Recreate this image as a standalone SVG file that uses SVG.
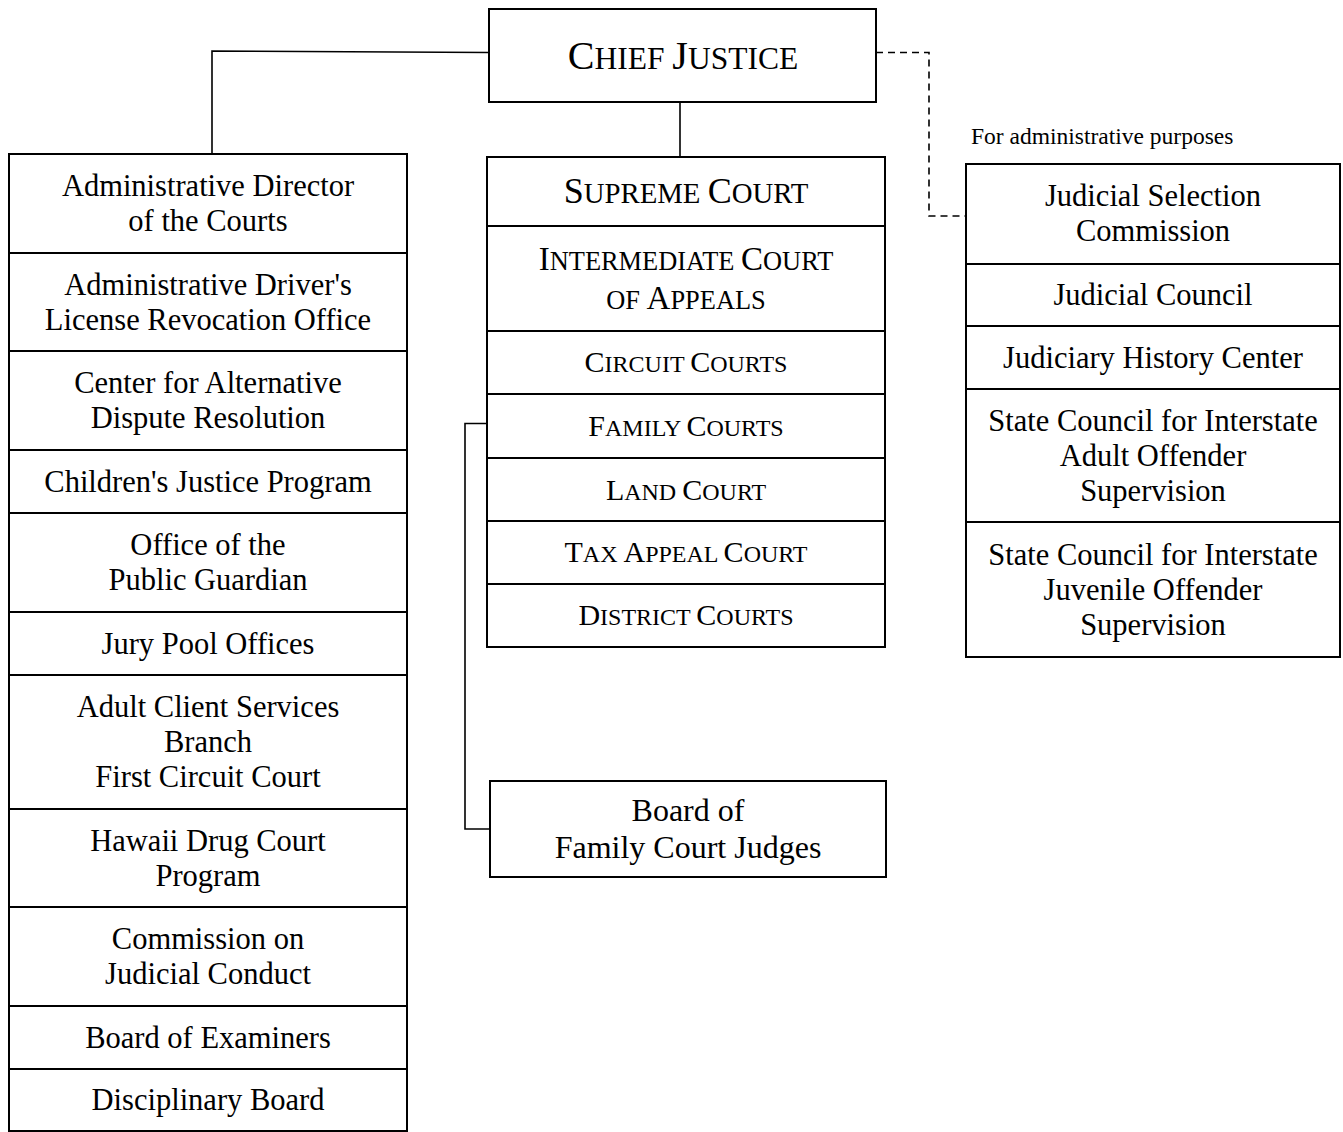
<svg xmlns="http://www.w3.org/2000/svg" width="1343" height="1132" viewBox="0 0 1343 1132">
<style>
  .box { fill: #fff; stroke: #000; stroke-width: 2; }
  .conn { fill: none; stroke: #000; stroke-width: 1.6; }
  .dash { fill: none; stroke: #000; stroke-width: 1.6; stroke-dasharray: 7 5; }
  text { font-family: "Liberation Serif", "Times New Roman", serif; fill: #000; text-anchor: middle; }
  .t { font-size: 30.5px; }
  .note { font-size: 23.5px; text-anchor: start; }
  .sc24 { font-size: 24px; }
  .sc24 .L { font-size: 30px; }
</style>
<rect width="1343" height="1132" fill="#fff"/>

<g id="connectors">
  <polyline class="conn" points="489,52.5 212,51 212,154"/>
  <line class="conn" x1="680" y1="102" x2="680" y2="157"/>
  <polyline class="dash" points="876,52.5 929,52.5 929,216 966,216"/>
  <polyline class="conn" points="487,423.5 465,423.5 465,829 490,829"/>
</g>

<g id="chief-justice">
  <rect class="box" x="489" y="9" width="387" height="93"/>
  <text x="683" y="69" style="font-size:31.5px"><tspan style="font-size:40px">C</tspan>HIEF <tspan style="font-size:40px">J</tspan>USTICE</text>
</g>

<g id="left-column">
  <g id="admin-director">
    <rect class="box" x="9" y="154" width="398" height="99"/>
    <text class="t" x="208" y="196">Administrative Director</text>
    <text class="t" x="208" y="231">of the Courts</text>
  </g>
  <g id="adlro">
    <rect class="box" x="9" y="253" width="398" height="98"/>
    <text class="t" x="208" y="294.5">Administrative Driver's</text>
    <text class="t" x="208" y="329.5">License Revocation Office</text>
  </g>
  <g id="cadr">
    <rect class="box" x="9" y="351" width="398" height="99"/>
    <text class="t" x="208" y="393">Center for Alternative</text>
    <text class="t" x="208" y="428">Dispute Resolution</text>
  </g>
  <g id="childrens-justice">
    <rect class="box" x="9" y="450" width="398" height="63"/>
    <text class="t" x="208" y="492">Children's Justice Program</text>
  </g>
  <g id="public-guardian">
    <rect class="box" x="9" y="513" width="398" height="99"/>
    <text class="t" x="208" y="555">Office of the</text>
    <text class="t" x="208" y="590">Public Guardian</text>
  </g>
  <g id="jury-pool">
    <rect class="box" x="9" y="612" width="398" height="63"/>
    <text class="t" x="208" y="653.5">Jury Pool Offices</text>
  </g>
  <g id="adult-client">
    <rect class="box" x="9" y="675" width="398" height="134"/>
    <text class="t" x="208" y="717">Adult Client Services</text>
    <text class="t" x="208" y="752">Branch</text>
    <text class="t" x="208" y="787">First Circuit Court</text>
  </g>
  <g id="drug-court">
    <rect class="box" x="9" y="809" width="398" height="98"/>
    <text class="t" x="208" y="850.5">Hawaii Drug Court</text>
    <text class="t" x="208" y="885.5">Program</text>
  </g>
  <g id="judicial-conduct">
    <rect class="box" x="9" y="907" width="398" height="99"/>
    <text class="t" x="208" y="949">Commission on</text>
    <text class="t" x="208" y="984">Judicial Conduct</text>
  </g>
  <g id="examiners">
    <rect class="box" x="9" y="1006" width="398" height="63"/>
    <text class="t" x="208" y="1047.5">Board of Examiners</text>
  </g>
  <g id="disciplinary">
    <rect class="box" x="9" y="1069" width="398" height="62"/>
    <text class="t" x="208" y="1110">Disciplinary Board</text>
  </g>
</g>

<g id="courts-column">
  <g id="supreme-court">
    <rect class="box" x="487" y="157" width="398" height="69"/>
    <text x="686" y="203" style="font-size:28.8px"><tspan style="font-size:36px">S</tspan>UPREME <tspan style="font-size:36px">C</tspan>OURT</text>
  </g>
  <g id="ica">
    <rect class="box" x="487" y="226" width="398" height="105"/>
    <text x="686" y="270" style="font-size:26.4px"><tspan style="font-size:33px">I</tspan>NTERMEDIATE <tspan style="font-size:33px">C</tspan>OURT</text>
    <text x="686" y="309" style="font-size:26.4px">OF <tspan style="font-size:33px">A</tspan>PPEALS</text>
  </g>
  <g id="circuit-courts">
    <rect class="box" x="487" y="331" width="398" height="63"/>
    <text class="sc24" x="686" y="371.5"><tspan class="L">C</tspan>IRCUIT <tspan class="L">C</tspan>OURTS</text>
  </g>
  <g id="family-courts">
    <rect class="box" x="487" y="394" width="398" height="64"/>
    <text class="sc24" x="686" y="436"><tspan class="L">F</tspan>AMILY <tspan class="L">C</tspan>OURTS</text>
  </g>
  <g id="land-court">
    <rect class="box" x="487" y="458" width="398" height="63"/>
    <text class="sc24" x="686" y="499.5"><tspan class="L">L</tspan>AND <tspan class="L">C</tspan>OURT</text>
  </g>
  <g id="tax-appeal">
    <rect class="box" x="487" y="521" width="398" height="63"/>
    <text class="sc24" x="686" y="562"><tspan class="L">T</tspan>AX <tspan class="L">A</tspan>PPEAL <tspan class="L">C</tspan>OURT</text>
  </g>
  <g id="district-courts">
    <rect class="box" x="487" y="584" width="398" height="63"/>
    <text class="sc24" x="686" y="625"><tspan class="L">D</tspan>ISTRICT <tspan class="L">C</tspan>OURTS</text>
  </g>
</g>

<g id="board-family-judges">
  <rect class="box" x="490" y="781" width="396" height="96"/>
  <text x="688" y="821" style="font-size:32px">Board of</text>
  <text x="688" y="858" style="font-size:32px">Family Court Judges</text>
</g>

<g id="admin-note">
  <text class="note" x="971" y="144">For administrative purposes</text>
</g>

<g id="right-column">
  <g id="judicial-selection">
    <rect class="box" x="966" y="164" width="374" height="100"/>
    <text class="t" x="1153" y="206">Judicial Selection</text>
    <text class="t" x="1153" y="241">Commission</text>
  </g>
  <g id="judicial-council">
    <rect class="box" x="966" y="264" width="374" height="62"/>
    <text class="t" x="1153" y="305">Judicial Council</text>
  </g>
  <g id="history-center">
    <rect class="box" x="966" y="326" width="374" height="63"/>
    <text class="t" x="1153" y="367.5">Judiciary History Center</text>
  </g>
  <g id="adult-offender">
    <rect class="box" x="966" y="389" width="374" height="133"/>
    <text class="t" x="1153" y="431">State Council for Interstate</text>
    <text class="t" x="1153" y="466">Adult Offender</text>
    <text class="t" x="1153" y="501">Supervision</text>
  </g>
  <g id="juvenile-offender">
    <rect class="box" x="966" y="522" width="374" height="135"/>
    <text class="t" x="1153" y="565">State Council for Interstate</text>
    <text class="t" x="1153" y="600">Juvenile Offender</text>
    <text class="t" x="1153" y="635">Supervision</text>
  </g>
</g>
</svg>
